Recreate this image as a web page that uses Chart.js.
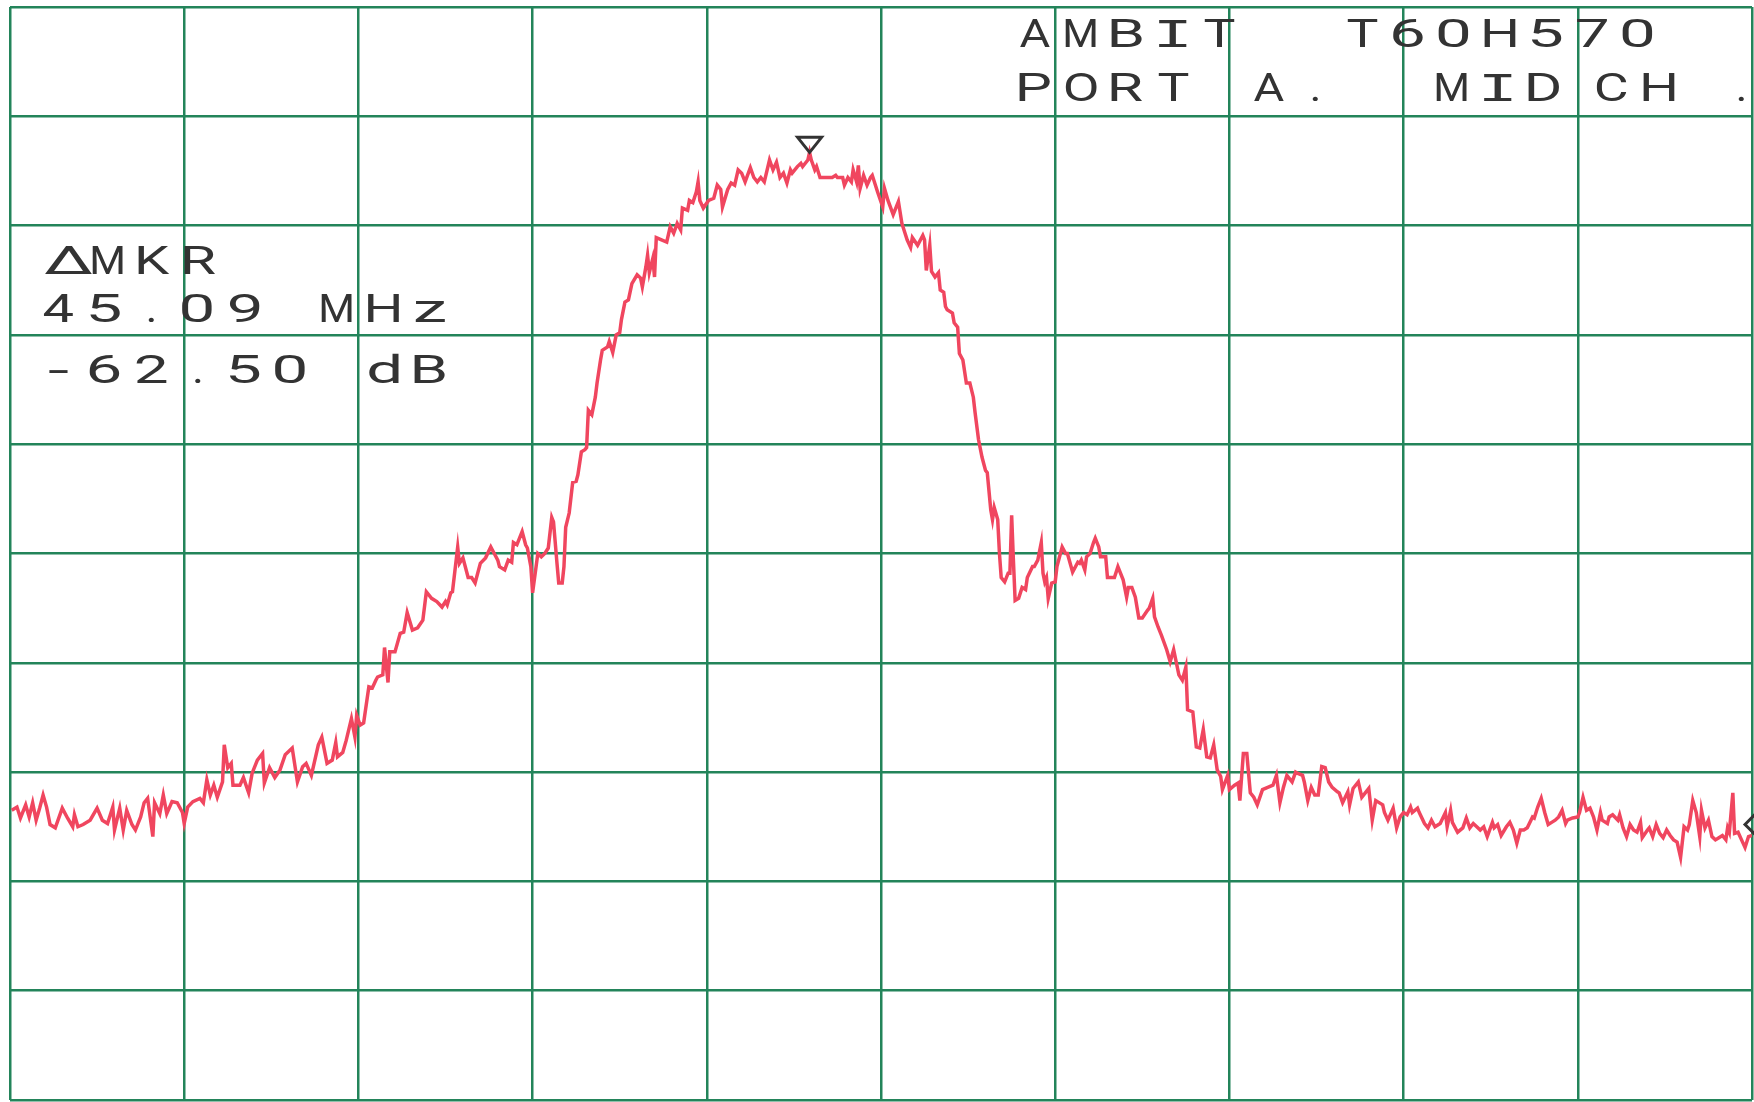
<!DOCTYPE html>
<html>
<head>
<meta charset="utf-8">
<script src="https://cdn.jsdelivr.net/npm/chart.js@4.4.1/dist/chart.umd.min.js"></script>
<style>
  html, body { margin: 0; padding: 0; background: #ffffff; }
  #myChart { display: block; }
</style>
</head>
<body>
<canvas id="myChart" width="1754" height="1102"></canvas>
<script>
// sweep position in graticule divisions (0..10) and level in dB (ref 0 dB, 10 dB/div)
var freqDiv = [
  0.01, 0.04, 0.06, 0.09, 0.11, 0.13, 0.15, 0.17, 0.19, 0.21, 0.23, 0.26, 0.30, 0.33, 0.36, 0.37, 0.39, 0.42, 0.46, 0.50,
  0.53, 0.56, 0.59, 0.60, 0.63, 0.65, 0.67, 0.70, 0.72, 0.75, 0.77, 0.79, 0.82, 0.83, 0.86, 0.88, 0.90, 0.93, 0.96, 0.99,
  1.00, 1.02, 1.05, 1.09, 1.11, 1.13, 1.15, 1.17, 1.19, 1.22, 1.23, 1.25, 1.27, 1.28, 1.32, 1.34, 1.37, 1.39, 1.42, 1.45,
  1.46, 1.49, 1.52, 1.55, 1.58, 1.62, 1.65, 1.68, 1.70, 1.73, 1.77, 1.79, 1.82, 1.85, 1.87, 1.88, 1.91,
  1.93, 1.96, 1.98, 1.99, 2.01, 2.03, 2.06, 2.08, 2.10, 2.11, 2.14, 2.15, 2.17, 2.18, 2.21, 2.24, 2.26, 2.28, 2.31, 2.34,
  2.37, 2.39, 2.42, 2.45, 2.48, 2.50, 2.51, 2.53, 2.54, 2.57, 2.58, 2.60, 2.63, 2.65, 2.67, 2.70, 2.73, 2.76, 2.77, 2.80,
  2.81, 2.84, 2.86, 2.88, 2.89, 2.91, 2.94, 2.96, 2.97, 2.99, 3.00, 3.03, 3.05, 3.07, 3.09, 3.11, 3.12, 3.14, 3.15, 3.17,
  3.18, 3.19, 3.21, 3.23, 3.25, 3.26, 3.28, 3.30, 3.31, 3.32, 3.34, 3.36, 3.37,
  3.39, 3.40, 3.43, 3.44, 3.46, 3.48, 3.50, 3.51, 3.53, 3.55, 3.57, 3.60, 3.62, 3.63, 3.65, 3.66, 3.67, 3.69, 3.70, 3.71,
  3.74, 3.77, 3.79, 3.81, 3.83, 3.85, 3.86, 3.89, 3.90, 3.92, 3.94, 3.95, 3.96, 3.98, 4.01, 4.04, 4.06, 4.08, 4.09, 4.12,
  4.14, 4.16, 4.18, 4.20, 4.22, 4.25, 4.27, 4.29, 4.31, 4.33, 4.36, 4.38, 4.40, 4.42, 4.44, 4.46, 4.48, 4.49, 4.52, 4.54,
  4.55, 4.58, 4.59, 4.60, 4.62, 4.63, 4.65, 4.67, 4.69, 4.72, 4.74, 4.75, 4.78, 4.79, 4.81, 4.83, 4.84, 4.86, 4.87, 4.88,
  4.90, 4.92, 4.94, 4.95, 4.98,
  5.01, 5.02, 5.04, 5.07, 5.10, 5.12, 5.15, 5.17, 5.18, 5.21, 5.24, 5.25, 5.26, 5.28, 5.29, 5.31, 5.33, 5.34, 5.36, 5.37,
  5.38, 5.41, 5.42, 5.44, 5.45, 5.47, 5.49, 5.51, 5.53, 5.54, 5.56, 5.58, 5.60, 5.61, 5.63, 5.64, 5.65, 5.67, 5.68, 5.69,
  5.71, 5.73, 5.74, 5.75, 5.76, 5.77, 5.79, 5.81, 5.83, 5.84, 5.87, 5.88, 5.90, 5.92, 5.93, 5.94, 5.95, 5.96, 5.98, 6.00,
  6.01, 6.03, 6.04, 6.06, 6.07, 6.10, 6.13, 6.14, 6.15, 6.17, 6.18, 6.20, 6.22, 6.23, 6.25, 6.26, 6.29, 6.30, 6.33, 6.34,
  6.36, 6.39, 6.41, 6.42, 6.44, 6.46, 6.48, 6.50, 6.53, 6.54, 6.56, 6.57, 6.59, 6.61, 6.64, 6.66, 6.68, 6.71,
  6.73, 6.75, 6.76, 6.79, 6.81, 6.83, 6.85, 6.87, 6.89, 6.91, 6.93, 6.95, 6.96, 6.99, 7.00, 7.03, 7.05, 7.06, 7.08, 7.10,
  7.12, 7.14, 7.16, 7.19, 7.22, 7.25, 7.27, 7.29, 7.31, 7.33, 7.36, 7.38, 7.39, 7.42, 7.43, 7.45, 7.47, 7.49, 7.51, 7.53,
  7.55, 7.57, 7.59, 7.62, 7.63, 7.65, 7.68, 7.69, 7.71, 7.74, 7.76, 7.78, 7.80, 7.82, 7.84, 7.85, 7.88, 7.89, 7.91, 7.94,
  7.96, 7.98, 8.00, 8.02, 8.04, 8.05, 8.08, 8.09, 8.12, 8.14, 8.16, 8.18, 8.21, 8.24, 8.25, 8.27, 8.28, 8.31, 8.34, 8.36,
  8.38, 8.40, 8.42, 8.44, 8.46, 8.48, 8.51, 8.52,
  8.54, 8.56, 8.59, 8.61, 8.63, 8.65, 8.67, 8.69, 8.71, 8.74, 8.75, 8.77, 8.79, 8.81, 8.83, 8.85, 8.87, 8.89, 8.91, 8.93,
  8.94, 8.97, 9.00, 9.01, 9.03, 9.05, 9.07, 9.09, 9.11, 9.13, 9.14, 9.17, 9.18, 9.20, 9.23, 9.24, 9.26, 9.28, 9.30, 9.32,
  9.34, 9.36, 9.37, 9.40, 9.41, 9.43, 9.45, 9.47, 9.49, 9.51, 9.53, 9.55, 9.57, 9.59, 9.61, 9.63, 9.64, 9.66, 9.68, 9.70,
  9.71, 9.73, 9.75, 9.77, 9.79, 9.81, 9.83, 9.85, 9.86, 9.87, 9.89, 9.90, 9.92, 9.94, 9.96, 9.98, 10.00
];
var levelDb = [
  -73.5, -73.2, -74.2, -73.0, -74.1, -72.8, -74.4, -73.3, -72.1, -73.2, -74.8, -75.1, -73.3, -74.2, -75.0, -73.9, -75.0, -74.8, -74.4, -73.3,
  -74.4, -74.7, -73.2, -75.3, -73.3, -75.3, -73.5, -74.8, -75.3, -74.1, -72.8, -72.4, -75.9, -72.8, -73.8, -72.1, -73.8, -72.7, -72.8, -73.7,
  -74.7, -73.2, -72.7, -72.4, -72.8, -70.7, -72.1, -71.2, -72.3, -70.9, -67.5, -69.6, -69.2, -71.2, -71.2, -70.5, -71.9, -70.1, -68.9, -68.3,
  -71.0, -69.6, -70.5, -69.8, -68.4, -67.8, -70.9, -69.5, -69.2, -70.3, -67.5, -66.8, -69.2, -68.9, -67.3, -68.6, -68.2,
  -67.1, -65.1, -66.8, -64.8, -65.7, -65.5, -62.2, -62.3, -61.6, -61.3, -61.1, -58.6, -61.8, -59.0, -59.0, -57.3, -57.2, -55.4, -57.0, -56.8,
  -56.1, -53.5, -54.1, -54.4, -54.9, -54.4, -54.7, -53.6, -53.5, -49.4, -50.9, -50.4, -52.2, -52.2, -52.7, -50.9, -50.4, -49.4, -49.7, -50.6,
  -51.2, -51.5, -50.6, -50.8, -49.0, -49.2, -48.0, -49.2, -49.5, -51.2, -53.6, -50.0, -50.3, -50.0, -49.5, -46.7, -47.1, -50.9, -52.7, -52.7,
  -51.2, -47.6, -46.3, -43.5, -43.4, -42.8, -40.7, -40.5, -40.3, -36.9, -37.3, -35.7, -34.4,
  -32.3, -31.4, -31.1, -30.6, -31.6, -30.0, -29.8, -28.6, -27.0, -26.8, -25.3, -24.5, -24.8, -25.6, -23.8, -22.7, -24.3, -23.0, -24.7, -21.1,
  -21.3, -21.5, -20.1, -20.7, -19.8, -20.4, -18.4, -18.6, -17.7, -17.9, -16.9, -16.0, -17.7, -18.4, -17.7, -17.5, -16.3, -16.7, -18.3, -16.7,
  -16.1, -16.3, -14.9, -15.2, -16.0, -14.7, -15.6, -16.0, -15.6, -16.0, -14.0, -14.9, -14.2, -15.6, -15.2, -16.1, -14.9, -15.2, -14.6, -14.3,
  -14.6, -14.0, -13.3, -14.0, -14.9, -14.6, -15.6, -15.6, -15.6, -15.6, -15.4, -15.6, -15.6, -16.3, -15.6, -16.0, -14.9, -16.0, -14.5, -16.6,
  -15.4, -16.3, -15.6, -15.4, -16.9,
  -18.3, -16.6, -17.7, -19.0, -17.8, -19.8, -21.3, -22.0, -21.1, -21.8, -20.9, -21.3, -24.1, -21.8, -24.2, -24.7, -24.3, -25.9, -26.1, -27.4,
  -27.7, -28.0, -28.9, -29.3, -31.7, -32.3, -34.4, -34.4, -35.7, -37.1, -39.6, -41.2, -42.4, -42.6, -46.0, -46.9, -45.8, -46.9, -50.0, -52.2,
  -52.6, -51.8, -51.8, -46.5, -50.6, -54.3, -54.1, -53.1, -53.3, -52.2, -51.2, -51.2, -50.6, -49.0, -51.8, -52.6, -52.2, -54.1, -52.7, -52.6,
  -51.2, -50.0, -49.4, -50.0, -50.0, -51.7, -50.8, -50.9, -50.6, -51.5, -50.3, -50.0, -49.0, -48.6, -49.4, -50.3, -50.3, -52.2, -52.2, -52.2,
  -51.2, -52.4, -54.0, -53.1, -53.1, -54.0, -55.9, -55.9, -55.2, -55.0, -54.1, -55.8, -56.7, -57.5, -58.8, -59.9, -58.8, -61.1,
  -61.6, -60.4, -64.3, -64.5, -67.7, -67.8, -66.1, -68.6, -68.7, -67.5, -69.8, -70.4, -71.6, -70.3, -71.6, -71.2, -71.0, -72.6, -68.3, -68.3,
  -71.9, -72.3, -73.0, -71.6, -71.4, -71.2, -70.3, -72.8, -71.4, -70.3, -70.9, -70.0, -70.1, -70.3, -70.9, -72.6, -71.4, -72.1, -72.1, -69.5,
  -69.6, -70.9, -71.4, -71.8, -71.9, -72.8, -71.8, -73.0, -71.5, -70.9, -72.3, -71.9, -71.5, -74.4, -72.6, -72.7, -73.0, -73.7, -74.4, -73.3,
  -75.1, -74.1, -73.7, -73.9, -73.2, -73.7, -73.3, -73.7, -74.7, -75.1, -74.4, -75.0, -74.7, -73.7, -75.0, -73.5, -74.6, -75.5, -75.1, -74.2,
  -75.1, -74.7, -75.0, -75.3, -75.0, -75.9, -74.6, -75.1,
  -74.8, -75.8, -75.0, -74.6, -75.3, -76.5, -75.3, -75.3, -75.1, -74.1, -74.2, -73.2, -72.4, -73.7, -74.8, -74.6, -74.4, -74.1, -73.5, -74.7,
  -74.4, -74.2, -74.1, -73.7, -72.3, -73.5, -73.3, -74.1, -75.3, -73.7, -74.4, -74.7, -74.1, -73.9, -74.4, -73.9, -75.1, -75.9, -74.8, -75.3,
  -75.5, -74.6, -76.0, -75.3, -75.1, -75.9, -74.8, -75.6, -76.0, -75.3, -75.8, -76.2, -76.4, -77.8, -75.0, -75.3, -74.8, -72.6, -73.7, -75.9,
  -73.5, -75.1, -74.4, -75.9, -76.2, -76.0, -75.8, -76.2, -75.1, -75.5, -71.9, -75.6, -75.5, -76.2, -76.9, -75.9, -75.8
];

var gridGreen = '#23845a';
var traceRed = '#f0465f';
var inkColor = '#333333';

var trace = freqDiv.map(function (f, i) { return { x: f, y: levelDb[i] }; });

// plotter-style annotation: fixed pitch, wide glyphs
function plotterText(ctx, str, left, baseline, pitch, width) {
  for (var i = 0; i < str.length; i++) {
    var ch = str[i];
    if (ch === ' ') continue;
    var cx = left + i * pitch + 16;
    ctx.font = (ch === 'I') ? '41px "Liberation Mono"' : '38px Roboto';
    var m = ctx.measureText(ch);
    var ink = m.actualBoundingBoxLeft + m.actualBoundingBoxRight;
    var target = width || 31;
    if (ch === 'I') target = 28;
    var sx = ch === '.' ? 1.2 : Math.max(0.8, Math.min(2.0, target / ink));
    var mid = (m.actualBoundingBoxRight - m.actualBoundingBoxLeft) / 2;
    ctx.save();
    ctx.translate(cx, baseline);
    ctx.scale(sx, 1);
    ctx.fillText(ch, -mid, 0);
    ctx.restore();
  }
}

var annotations = {
  id: 'annotations',
  afterDraw: function (chart) {
    var ctx = chart.ctx;
    var xs = chart.scales.x, ys = chart.scales.y;
    ctx.save();
    ctx.fillStyle = inkColor;
    ctx.strokeStyle = inkColor;
    ctx.textAlign = 'left';
    ctx.textBaseline = 'alphabetic';

    plotterText(ctx, 'AMBIT', 1019, 47, 46);
    plotterText(ctx, 'T60H570', 1346, 47, 46);
    plotterText(ctx, 'PORT', 1019, 101, 46);
    plotterText(ctx, 'A.', 1253, 101, 46);
    plotterText(ctx, 'MID', 1436, 101, 46);
    plotterText(ctx, 'CH', 1596, 101, 47);
    plotterText(ctx, '.', 1725, 101, 46);

    plotterText(ctx, '\u0394', 52, 274, 46, 48);
    plotterText(ctx, 'MKR', 92, 274, 46);
    plotterText(ctx, '45.09 MHz', 42, 322, 46.5);
    plotterText(ctx, '-62.50 dB', 42, 383, 46.5);

    // peak marker (open triangle pointing at the highest trace point)
    var peak = 0;
    for (var i = 1; i < levelDb.length; i++) if (levelDb[i] > levelDb[peak]) peak = i;
    var px = xs.getPixelForValue(freqDiv[peak]);
    var py = ys.getPixelForValue(levelDb[peak]);
    ctx.lineWidth = 3;
    ctx.lineJoin = 'miter';
    ctx.beginPath();
    ctx.moveTo(px, py);
    ctx.lineTo(px - 12, py - 15);
    ctx.lineTo(px + 12, py - 15);
    ctx.closePath();
    ctx.stroke();

    // delta marker (diamond at the end of the sweep)
    var last = levelDb.length - 1;
    var dx = xs.getPixelForValue(freqDiv[last]) + 4;
    var dy = ys.getPixelForValue(levelDb[last]) - 11;
    ctx.beginPath();
    ctx.moveTo(dx - 11, dy);
    ctx.lineTo(dx, dy - 11);
    ctx.lineTo(dx + 11, dy);
    ctx.lineTo(dx, dy + 11);
    ctx.closePath();
    ctx.stroke();
    ctx.restore();
  }
};

var ctx = document.getElementById('myChart');
var myChart = new Chart(ctx, {
  type: 'line',
  data: {
    datasets: [{
      label: 'Trace A',
      data: trace,
      borderColor: traceRed,
      borderWidth: 3.5,
      pointRadius: 0,
      tension: 0,
      fill: false
    }]
  },
  options: {
    responsive: false,
    animation: false,
    layout: { padding: { left: 10, top: 7, right: 2, bottom: 2 } },
    plugins: {
      legend: { display: false },
      tooltip: { enabled: false }
    },
    scales: {
      x: {
        type: 'linear',
        min: 0,
        max: 10,
        ticks: { display: false, stepSize: 1 },
        grid: { color: gridGreen, lineWidth: 2.5, drawTicks: false },
        border: { display: false }
      },
      y: {
        type: 'linear',
        min: -100,
        max: 0,
        ticks: { display: false, stepSize: 10 },
        grid: { color: gridGreen, lineWidth: 2.5, drawTicks: false },
        border: { display: false }
      }
    }
  },
  plugins: [annotations]
});
</script>
</body>
</html>
